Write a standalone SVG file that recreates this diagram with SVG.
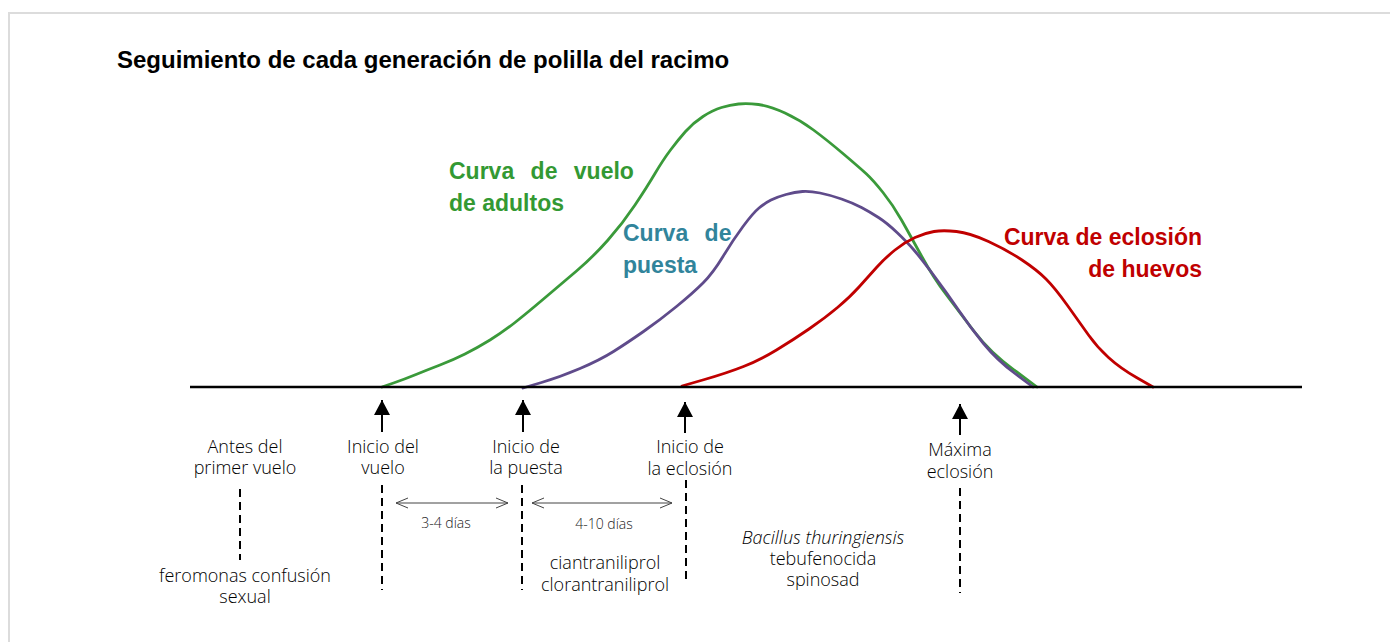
<svg xmlns="http://www.w3.org/2000/svg" width="1390" height="642" viewBox="0 0 1390 642">
<defs>
<style>
.lbl{font-family:"Open Sans","Liberation Sans",sans-serif;font-weight:300;font-size:18px;fill:#000;text-anchor:middle}
.sm{font-family:"Open Sans","Liberation Sans",sans-serif;font-weight:300;font-size:14px;fill:#222;text-anchor:middle}
.cl{font-family:"Liberation Sans",Arial,sans-serif;font-weight:bold;font-size:23px}
.curve{fill:none;stroke-width:2.8;stroke-linejoin:round;stroke-linecap:round}
.dash{stroke:#000;stroke-width:2;stroke-dasharray:8 5;fill:none}
.up{stroke:#000;stroke-width:2;fill:none;marker-end:url(#tri)}
.dbl{stroke:#444;stroke-width:1;fill:none;marker-start:url(#chev);marker-end:url(#chev)}
</style>
<marker id="tri" markerUnits="userSpaceOnUse" viewBox="-16 -9 17 18" refX="0" refY="0" markerWidth="17" markerHeight="18" orient="auto">
<path d="M0,0 L-15,-8 L-15,8 Z" fill="#000"/>
</marker>
<marker id="chev" markerUnits="userSpaceOnUse" viewBox="-14 -7 15 14" refX="0" refY="0" markerWidth="15" markerHeight="14" orient="auto-start-reverse">
<path d="M-12,-5 L0,0 L-12,5" fill="none" stroke="#444" stroke-width="1"/>
</marker>
</defs>
<rect x="0" y="0" width="1390" height="642" fill="#fff"/>
<rect id="frame" x="9" y="13" width="1400" height="650" fill="none" stroke="#dcdcdc" stroke-width="2"/>
<text id="title" x="117" y="68" font-family="'Liberation Sans',Arial,sans-serif" font-weight="bold" font-size="24" fill="#000">Seguimiento de cada generación de polilla del racimo</text>

<g id="curves">
<path id="curve-vuelo" class="curve" stroke="#3a9a3a" d="M382,387 L393.5,383 Q405,379 416,374.5 Q427,370 440,365 Q453,360 465,354 Q477,348 490,340 Q503,332 515,322.5 Q527,313 543.5,299 Q560,285 576.5,271 Q593,257 608,240 Q623,223 635,205 Q647,187 655,173.5 Q663,160 670.5,150 Q678,140 685.5,131.5 Q693,123 703,116.5 Q713,110 721.5,107.5 Q730,105 738.5,104 Q747,103 758.5,104.5 Q770,106 785,113 Q800,120 813.5,130 Q827,140 843.5,154 Q860,168 866.5,174 Q873,180 883,192.5 Q893,205 901.5,220 Q910,235 921.5,256 Q933,277 946.5,295 Q960,313 975,332.5 Q990,352 1013.5,369.5 L1037,387"/>
<path id="curve-puesta" class="curve" stroke="#5f4b8b" d="M523,388 L541.5,382.5 Q560,377 580,368.5 Q600,360 613.5,351.5 Q627,343 643.5,331.5 Q660,320 676.5,306.5 Q693,293 703,283 Q713,273 723,256.5 Q733,240 743,226.5 Q753,213 759,208 Q765,203 771,200 Q777,197 786,194.5 Q795,192 802.5,191.5 Q810,191 820,193 Q830,195 841.5,199 Q853,203 861.5,207.5 Q870,212 878.5,217.5 Q887,223 897,232.5 Q907,242 913.5,249.5 Q920,257 933.5,275 Q947,293 958.5,310 Q970,327 983.5,343.5 Q997,360 1015,373.5 L1033,387"/>
<path id="curve-eclosion" class="curve" stroke="#c00000" d="M682,386 L704.5,379.5 Q727,373 743.5,366.5 Q760,360 776.5,350 Q793,340 809,329 Q825,318 837.5,307.5 Q850,297 859,287 Q868,277 876.5,267.5 Q885,258 895,250 Q905,242 915,237.5 Q925,233 934,231.5 Q943,230 956.5,231.5 Q970,233 988.5,241.5 Q1007,250 1022,260 Q1037,270 1046,279 Q1055,288 1067.5,305.5 Q1080,323 1088.5,335 Q1097,347 1108.5,357.5 Q1120,368 1136.5,377.5 L1153,387"/>
</g>
<line id="axis" x1="190" y1="387" x2="1302" y2="387" stroke="#000" stroke-width="2.5"/>

<g id="curve-labels">
<text class="cl" fill="#339933" x="449" y="179" word-spacing="10">Curva de vuelo</text>
<text class="cl" fill="#339933" x="449" y="211">de adultos</text>
<text class="cl" fill="#31849b" x="623" y="241" word-spacing="10">Curva de</text>
<text class="cl" fill="#31849b" x="623" y="273">puesta</text>
<text class="cl" fill="#c00000" x="1202" y="245" text-anchor="end">Curva de eclosión</text>
<text class="cl" fill="#c00000" x="1202" y="277" text-anchor="end">de huevos</text>
</g>

<g id="connectors">
<line class="up" x1="382" y1="432" x2="382" y2="400"/>
<line class="up" x1="523" y1="432" x2="523" y2="400"/>
<line class="up" x1="685" y1="433" x2="685" y2="402"/>
<line class="up" x1="960" y1="435" x2="960" y2="404"/>
<line class="dash" x1="240" y1="489" x2="240" y2="560"/>
<line class="dash" x1="382" y1="485" x2="382" y2="590"/>
<line class="dash" x1="522" y1="485" x2="522" y2="590"/>
<line class="dash" x1="686" y1="480" x2="686" y2="583"/>
<line class="dash" x1="960" y1="488" x2="960" y2="593"/>
<line class="dbl" x1="396" y1="503" x2="508" y2="503"/>
<line class="dbl" x1="532" y1="503" x2="672" y2="503"/>
</g>

<g id="node-antes">
<text class="lbl" x="245" y="453">Antes del</text>
<text class="lbl" x="245" y="474">primer vuelo</text>
</g>
<g id="node-inicio-vuelo">
<text class="lbl" x="383" y="453">Inicio del</text>
<text class="lbl" x="383" y="474">vuelo</text>
</g>
<g id="node-inicio-puesta">
<text class="lbl" x="526" y="453">Inicio de</text>
<text class="lbl" x="526" y="474">la puesta</text>
</g>
<g id="node-inicio-eclosion">
<text class="lbl" x="690" y="453">Inicio de</text>
<text class="lbl" x="690" y="475">la eclosión</text>
</g>
<g id="node-maxima">
<text class="lbl" x="960" y="456">Máxima</text>
<text class="lbl" x="960" y="478">eclosión</text>
</g>
<g id="gap-labels">
<text class="sm" x="446" y="528">3-4 días</text>
<text class="sm" x="604" y="529">4-10 días</text>
</g>
<g id="node-feromonas">
<text class="lbl" x="245" y="582">feromonas confusión</text>
<text class="lbl" x="245" y="603">sexual</text>
</g>
<g id="node-cian">
<text class="lbl" x="605" y="569">ciantraniliprol</text>
<text class="lbl" x="605" y="591">clorantraniliprol</text>
</g>
<g id="node-bacillus">
<text class="lbl" x="823" y="544" font-style="italic">Bacillus thuringiensis</text>
<text class="lbl" x="823" y="565">tebufenocida</text>
<text class="lbl" x="823" y="586">spinosad</text>
</g>
</svg>
